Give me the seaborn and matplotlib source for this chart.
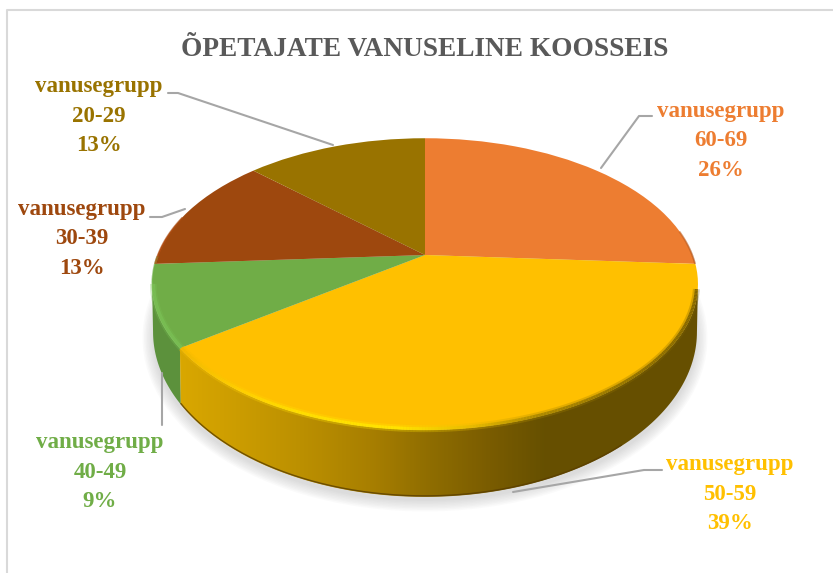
import numpy as np
import matplotlib
matplotlib.use("Agg")
import matplotlib.pyplot as plt
import matplotlib.colors as mcolors
import matplotlib.transforms as mtransforms
from matplotlib.collections import LineCollection
from matplotlib.patches import Polygon, Ellipse
import seaborn as sns

# data
vanused = ["60-69", "50-59", "40-49", "30-39", "20-29"]
osakaal = [26, 39, 9, 13, 13]
varvid = ["#ED7D31", "#FFC000", "#70AD47", "#9E480E", "#997300"]
pealkiri = "ÕPETAJATE VANUSELINE KOOSSEIS"

sns.set_theme(style="white")
plt.rcParams["font.family"] = ["Liberation Serif", "DejaVu Sans"]
palett = sns.color_palette(varvid)

# how the round pie is tilted on the page (pixels)
TILT = 0.199
TOP = dict(cx=425, cy=255, ax=267.5, ay=140)
BASE = dict(cx=425, cy=299, ax=266.5, ay=158.5)


def project(theta, cx, cy, ax, ay, r=1.0):
    # theta runs clockwise from 12 o'clock, in degrees
    x = r * np.sin(np.radians(theta))
    y = r * np.cos(np.radians(theta))
    w = 1 + TILT * y
    return cx + ax * x / w, cy - ay * y / w


class Perspective(mtransforms.Transform):
    input_dims = 2
    output_dims = 2

    def transform_non_affine(self, values):
        values = np.asarray(values)
        w = 1 + TILT * values[:, 1]
        return np.column_stack([TOP["cx"] + TOP["ax"] * values[:, 0] / w,
                                TOP["cy"] - TOP["ay"] * values[:, 1] / w])


fig = plt.figure(figsize=(8.33, 5.73), dpi=100)
ax = fig.add_axes([0, 0, 1, 1])

# slices
wedges, _ = ax.pie(osakaal, colors=palett, startangle=90, counterclock=False,
                   wedgeprops=dict(linewidth=0))
persp = Perspective()
for w in wedges:
    w.set_transform(persp + ax.transData)
    w.set_zorder(5)

# slice borders in degrees
piirid = np.cumsum([0] + osakaal) * 3.6
kollane_lopp = piirid[2]
PAREM = 101.5
VASAK = 258.5


def wall_poly(t0, t1):
    t = np.linspace(t0, t1, 120)
    xt, yt = project(t, **TOP)
    xb, yb = project(t[::-1], **BASE)
    return np.column_stack([np.r_[xt, xb], np.r_[yt, yb]])


# soft shadow under the pie
for k in range(8):
    ax.add_patch(Ellipse((425, 338), 2 * (272 + k * 1.5), 2 * (163 + k * 1.5),
                         facecolor="#808080", alpha=0.035, linewidth=0, zorder=1))

# side wall: green part flat, yellow part with a gradient
ax.add_patch(Polygon(wall_poly(kollane_lopp, VASAK), closed=True,
                     facecolor="#5C913C", linewidth=0, zorder=3))
sein = Polygon(wall_poly(PAREM, kollane_lopp), closed=True, facecolor="none",
               linewidth=0, zorder=3)
ax.add_patch(sein)
sein_x = [180, 240, 300, 370, 430, 490, 545, 700]
sein_c = ["#D9A700", "#CB9C00", "#BC9000", "#A87F00", "#8F6D00", "#7A5C00", "#665000", "#664F00"]
xs = np.linspace(180, 700, 260)
rgb = np.array([mcolors.to_rgb(c) for c in sein_c])
grad = np.column_stack([np.interp(xs, sein_x, rgb[:, i]) for i in range(3)])[None, :, :]
pilt = ax.imshow(grad, extent=(180, 700, 510, 250), aspect="auto", zorder=3)
pilt.set_clip_path(sein)

# dark lower edge of the wall
t = np.linspace(kollane_lopp, PAREM + 40, 200)
xb, yb = project(t, **BASE)
ax.plot(xb, yb - 1, color="#5A3E00", lw=1.0, alpha=0.8, zorder=4)


def rim(t0, t1, x_stops, colors, r=0.992, widths=((5, 0.35), (2.6, 1))):
    t = np.linspace(t0, t1, 240)
    x, y = project(t, r=r, **TOP)
    rgb = np.array([mcolors.to_rgb(c) for c in colors])
    c = np.column_stack([np.interp(x, x_stops, rgb[:, i]) for i in range(3)])
    pts = np.column_stack([x, y]).reshape(-1, 1, 2)
    seg = np.concatenate([pts[:-1], pts[1:]], axis=1)
    for lw, alpha in widths:
        lc = LineCollection(seg, colors=c[:-1], linewidths=lw, alpha=alpha,
                            capstyle="butt", zorder=6)
        ax.add_collection(lc)


# bevel along the front edge
rim(PAREM + 2, kollane_lopp,
    [183, 240, 300, 400, 470, 540, 640, 697],
    ["#F2B800", "#FFD000", "#FFE000", "#FFE600", "#E8BC00", "#A88600", "#8A6C00", "#7A6000"],
    r=0.995, widths=((5, 0.3), (2.2, 0.9)))
rim(kollane_lopp, VASAK, [150, 183], ["#7CC257", "#7CC257"], r=0.995)
rim(VASAK, piirid[3] + 3, [150, 160], ["#74B84E", "#74B84E"], r=0.998, widths=((1.6, 0.8),))
rim(piirid[3], piirid[3] + 20, [150, 190], ["#C4561C", "#A84C10"], r=0.998, widths=((1.4, 0.8),))
rim(piirid[0] + 80, piirid[1], [660, 697], ["#ED7D31", "#A85A2A"], r=0.999, widths=((1.2, 0.8),))

# labels
sildi_x = [721, 730, 100, 82, 99]
sildi_y = [141, 494, 472, 239, 116]
for v, o, c, x, y in zip(vanused, osakaal, palett, sildi_x, sildi_y):
    ax.text(x, y, "vanusegrupp\n%s\n%d%%" % (v, o), color=c, ha="center", va="center",
            fontsize=16.5, fontweight="bold", linespacing=1.54, zorder=8)

# leader lines
jooned = [([652, 639, 601], [116, 116, 168]),
          ([662, 644, 513], [470, 470, 492]),
          ([162, 162], [425, 373]),
          ([150, 162, 185], [217, 217, 209]),
          ([168, 178, 333], [93, 93, 145])]
for jx, jy in jooned:
    ax.plot(jx, jy, color="#A6A6A6", lw=1.5, zorder=7)

ax.text(425, 50, pealkiri, color="#595959", ha="center", va="center",
        fontsize=19.7, fontweight="bold", zorder=8)

# chart frame
ax.plot([7, 7, 833], [573, 10, 10], color="#D9D9D9", lw=1.5, zorder=2)

ax.set_aspect("auto")
ax.set_xlim(0, 833)
ax.set_ylim(573, 0)
ax.axis("off")

fig.savefig("out.png", dpi=100)
